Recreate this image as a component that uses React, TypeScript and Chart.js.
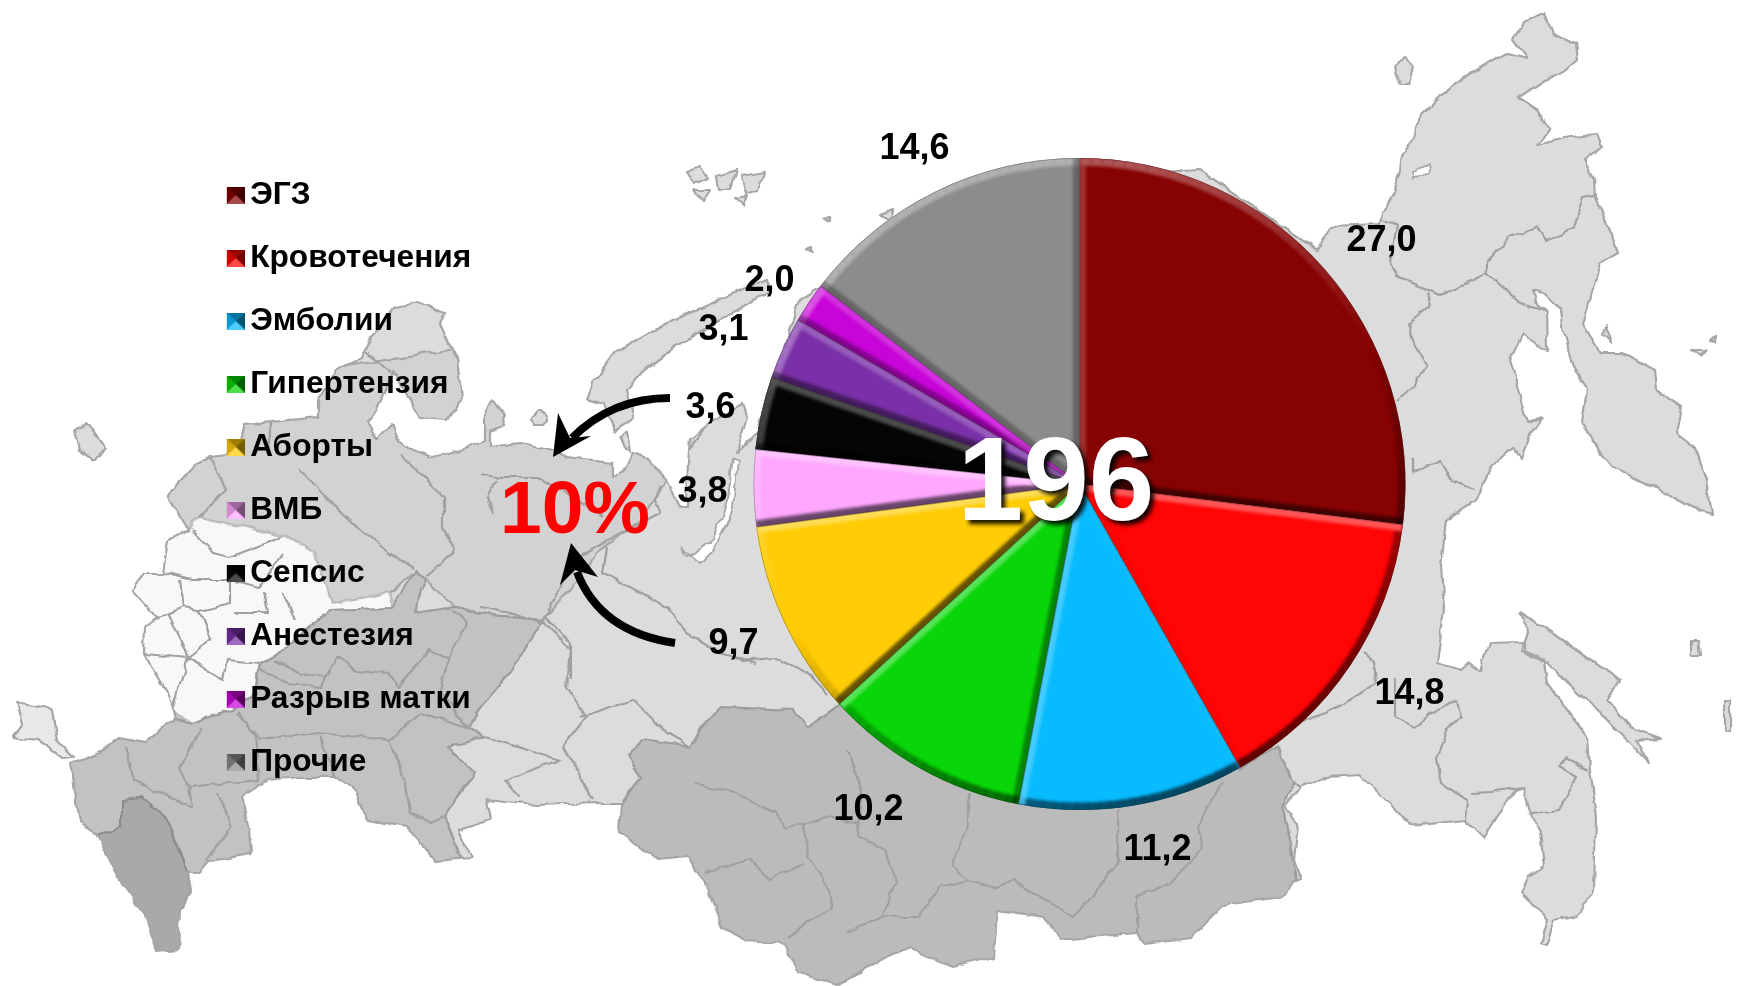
import React, { useEffect, useRef } from "react";
import { Chart, registerables } from "chart.js";

Chart.register(...registerables);

const categories = ["ЭГЗ", "Кровотечения", "Эмболии", "Гипертензия", "Аборты", "ВМБ", "Сепсис", "Анестезия", "Разрыв матки", "Прочие"];
const shares = [27.0, 14.8, 11.2, 10.2, 9.7, 3.8, 3.6, 3.1, 2.0, 14.6];
const sliceColors = ["#870303", "#FF0505", "#08BBFF", "#08D608", "#FFCC05", "#FFA6FF", "#050505", "#7A30A8", "#C805D8", "#8C8C8C"];
const valueLabels = ["27,0", "14,8", "11,2", "10,2", "9,7", "3,8", "3,6", "3,1", "2,0", "14,6"];
const centerLabel = "196";
const shareLabel = "10%";

// label offsets from pie centre, px
const labelDX = [302, 330, 78, -211, -346, -377, -369, -356, -310, -165];
const labelDY = [-243, 210, 366, 326, 160, 8, -76, -154, -203, -335];

const W = 1738, H = 986;
const CX = 1079.5, CY = 484, R = 326;
const FONT = '"Liberation Sans", Arial, sans-serif';

// decorative backdrop map, page pixels
const landMain = "168,497 180,480 194,465 210,457 238,454 245,425 318,417 318,400 337,370 363,357 370,337 397,307 417,302 445,313 440,323 457,360 462,397 447,420 420,418 407,393 392,373 377,410 368,423 377,438 392,423 397,437 413,450 433,457 460,450 485,440 485,415 493,400 505,415 503,427 490,432 490,447 520,443 553,450 567,458 613,463 613,477 627,467 633,453 647,458 667,480 680,507 687,507 688,460 690,440 720,417 743,405 747,417 737,453 757,433 800,300 1000,180 1200,170 1317,250 1330,227 1380,225 1382,213 1393,193 1400,170 1402,157 1413,137 1423,113 1443,93 1480,67 1507,53 1527,58 1513,40 1523,23 1543,13 1553,33 1575,43 1577,60 1560,75 1540,83 1518,98 1537,110 1550,130 1537,145 1570,137 1597,135 1602,147 1585,160 1595,180 1596,197 1608,227 1618,253 1600,263 1592,293 1583,325 1600,353 1623,353 1655,370 1657,390 1682,407 1677,433 1695,447 1707,480 1712,515 1700,512 1673,497 1613,467 1593,443 1582,422 1587,390 1573,363 1563,333 1560,310 1543,293 1533,290 1538,307 1547,312 1548,350 1537,347 1523,333 1510,360 1520,393 1528,422 1542,417 1528,437 1520,458 1513,447 1490,467 1476,500 1446,520 1441,567 1444,610 1437,663 1461,670 1469,663 1480,670 1489,643 1525,642 1525,650 1544,660 1547,683 1587,737 1589,770 1596,817 1594,890 1577,915 1555,920 1546,945 1540,943 1547,920 1521,893 1529,877 1544,867 1540,833 1532,817 1523,787 1514,790 1484,838 1469,823 1464,820 1420,825 1409,823 1386,800 1360,775 1326,777 1300,788 1285,807 1298,825 1294,860 1300,877 1281,897 1244,902 1221,907 1191,937 1147,943 1137,933 1089,937 1060,940 1045,917 997,910 994,957 953,967 910,948 866,967 837,985 798,973 784,943 745,940 723,927 708,887 689,857 658,860 619,832 621,803 600,803 536,805 486,800 490,820 459,830 471,857 436,860 406,827 367,820 356,790 337,777 299,777 268,780 241,797 249,830 251,853 210,860 199,873 188,873 191,893 180,910 178,950 157,952 144,913 122,883 96,833 80,823 71,763 103,750 119,738 147,743 168,723 176,717 168,693 144,653 145,627 157,617 132,590 145,573 163,573 168,540 188,530";
const islands = [
  "17,703 52,710 57,740 73,757 63,758 38,740 13,737 23,723",
  "75,430 87,422 105,448 95,460 80,450",
  "593,382 615,352 665,324 720,299 767,280 770,291 726,316 676,346 643,371 627,390 634,419 615,432 604,404 587,399",
  "530,420 540,410 548,420 543,427 533,427",
  "620,438 627,433 630,453 625,450",
  "1519,612 1553,633 1619,680 1607,700 1630,727 1660,738 1637,740 1649,763 1630,743 1600,713 1547,663 1521,650 1529,630",
  "1395,67 1403,55 1412,67 1408,85 1400,85",
  "1605,325 1612,343 1603,335",
  "1692,350 1707,350 1700,355",
  "1710,342 1717,336 1714,343",
  "687,170 700,166 708,178 694,184",
  "716,176 736,170 730,188 718,190",
  "740,176 764,172 758,190 745,194",
  "694,190 710,190 704,202",
  "735,198 746,196 742,204",
  "824,218 830,216 830,222",
  "806,248 812,246 812,252",
  "880,215 895,210 890,222",
  "1724,700 1730,700 1730,730 1724,730",
  "1692,655 1700,655 1698,640 1692,640",
];
const inlets = [
  "733,457 738,460 733,507 730,517 713,550 700,563 680,548 687,557 710,543 723,517 728,500",
  "1412,172 1430,165 1428,176 1412,178",
];
const regionNW = "100,400 800,300 667,480 640,520 600,550 560,600 543,620 490,615 455,607 425,580 415,570 390,593 333,603 314,552 287,537 199,517 188,530 100,540";
const regionCentral = "199,517 287,537 314,552 333,603 390,593 390,608 329,610 283,650 260,663 256,693 233,710 191,723 176,713 100,650 120,560 188,530";
const regionVolga = "329,610 390,608 415,570 425,580 415,613 455,607 490,615 543,620 509,673 467,727 486,737 448,747 475,773 444,817 480,900 300,900 200,960 100,960 40,800 71,763 119,738 147,743 168,723 176,717 191,723 233,710 256,693 260,663 283,650";
const regionSiberia = "641,740 691,747 700,730 721,707 793,710 808,727 839,705 1100,600 1239,768 1278,747 1293,783 1283,807 1300,900 1200,1000 800,1000 600,880 619,807 641,777 628,757";
const regionCaucasus = "122,800 142,798 165,817 180,850 188,873 191,893 180,910 200,980 130,980 110,900 80,840 122,827";
const borders = [
  "1595,195 1582,197 1573,227 1547,242 1537,227 1510,237 1487,263 1487,273 1467,283 1440,295 1423,287 1397,277 1390,260 1397,227 1380,220",
  "1487,273 1520,303 1547,312",
  "1430,293 1428,307 1408,323 1417,350 1427,367 1413,387 1397,400",
  "1413,457 1413,473 1440,460 1450,480 1473,490",
  "1279,747 1289,777 1300,788",
  "1304,722 1345,703 1377,683 1375,660 1364,653",
  "1394,677 1394,717 1416,727 1431,713 1457,700 1461,717 1448,727 1437,760 1442,783 1467,800 1465,820",
  "1472,793 1491,792 1521,787",
  "1532,813 1559,810 1577,777 1559,767 1566,757 1587,770",
  "694,783 735,793 774,813 788,827 832,817 861,823",
  "847,750 861,790 859,837 885,850 897,883 881,917 847,933",
  "803,823 808,857 830,890 832,907 788,937",
  "706,872 750,860 769,880 805,863",
  "968,793 968,823 953,867 968,880 939,887 919,917 881,917",
  "968,880 997,888 1014,880 1074,917 1118,863 1118,810",
  "1222,783 1198,827 1203,847 1171,883 1137,897 1137,933",
  "580,717 633,700 667,733 691,747",
  "740,660 774,657 808,673 827,693",
  "191,530 214,553 230,557 283,537",
  "163,573 191,580 230,580 260,587 283,553",
  "180,580 184,607 153,620",
  "184,607 199,610 230,603 230,580",
  "199,610 210,640 188,657 168,613",
  "145,653 188,657 222,680 226,660 260,663",
  "188,657 172,710",
  "233,613 268,613 264,590",
  "295,620 283,593",
  "272,660 302,673 325,677 337,657 356,670 390,673 398,687 429,650 448,660 440,690 467,727",
  "448,660 467,623 452,610",
  "260,670 287,683 321,687 325,677",
  "237,713 260,740 318,733 390,740 421,713 467,727",
  "321,736 337,780",
  "390,740 406,783 410,813 432,823 444,817",
  "203,727 180,767 188,787 260,780 256,737 237,713",
  "126,747 134,780 191,807 188,787",
  "218,793 230,827 207,860",
  "543,620 570,650 566,687 586,717 563,747 593,800",
  "486,737 517,747 559,760 505,780 520,797",
  "333,503 364,533 390,553 413,568",
  "444,497 444,527 455,550 425,577",
  "480,473 500,477 537,477 577,500 603,517",
  "660,487 653,500 660,513 607,540 573,560 550,607 543,623",
  "607,547 603,573 640,593 667,607 687,633 720,653 757,663",
  "546,617 570,643 570,680",
  "480,607 510,613 543,623",
  "497,480 487,497 493,513",
  "270,423 270,453",
  "363,350 380,363 390,373",
  "210,457 225,490 199,517",
  "300,470 333,503",
  "400,455 444,497",
];

function mix(hex: string, t: number) {
  const n = parseInt(hex.slice(1), 16);
  const f = (v: number) => Math.round(v + (255 - v) * t);
  return [f((n >> 16) & 255), f((n >> 8) & 255), f(n & 255)];
}

function makeSwatch(color: string) {
  const c = document.createElement("canvas");
  c.width = 22;
  c.height = 17;
  const g = c.getContext("2d")!;
  g.translate(4, 0);
  g.fillStyle = color;
  g.fillRect(0, 0, 18, 17);
  const tri = (pts: number[][], style: string) => {
    g.fillStyle = style;
    g.beginPath();
    pts.forEach((p, i) => (i ? g.lineTo(p[0], p[1]) : g.moveTo(p[0], p[1])));
    g.closePath();
    g.fill();
  };
  const mid = [9, 8.5];
  tri([[0, 0], [18, 0], mid], "rgba(0,0,0,0.38)");
  tri([[18, 0], [18, 17], mid], "rgba(0,0,0,0.55)");
  tri([[0, 17], [18, 17], mid], "rgba(255,255,255,0.28)");
  tri([[0, 0], [0, 17], mid], "rgba(0,0,0,0.18)");
  return c;
}

const bevelPlugin = {
  id: "bevel",
  afterDatasetsDraw(chart: any) {
    const ctx: CanvasRenderingContext2D = chart.ctx;
    const L = [-0.45, -0.89];
    chart.getDatasetMeta(0).data.forEach((arc: any, idx: number) => {
      const base = sliceColors[idx];
      const lit = mix(base, 0.32);
      const shade = (n: number[]) => {
        const d = n[0] * L[0] + n[1] * L[1];
        return d >= 0
          ? `rgba(${lit[0]},${lit[1]},${lit[2]},${Math.min(1, d * 1.25).toFixed(3)})`
          : `rgba(0,0,0,${(0.62 * -d).toFixed(3)})`;
      };
      const { x, y, startAngle: s, endAngle: e, outerRadius: r } = arc.getProps(["x", "y", "startAngle", "endAngle", "outerRadius"], true);
      ctx.save();
      ctx.beginPath();
      ctx.moveTo(x, y);
      ctx.arc(x, y, r, s, e);
      ctx.closePath();
      ctx.clip();
      ctx.filter = "blur(1.5px)";
      ctx.lineCap = "butt";
      ctx.lineWidth = 15;
      const step = Math.PI / 90;
      for (let a = s; a < e; a += step) {
        const mid = Math.min(a + step / 2, e);
        ctx.strokeStyle = shade([Math.cos(mid), Math.sin(mid)]);
        ctx.beginPath();
        ctx.arc(x, y, r, a, Math.min(a + step + 0.003, e));
        ctx.stroke();
      }
      const edges: [number, number[]][] = [
        [s, [Math.cos(s - Math.PI / 2), Math.sin(s - Math.PI / 2)]],
        [e, [Math.cos(e + Math.PI / 2), Math.sin(e + Math.PI / 2)]],
      ];
      edges.forEach(([a, n]) => {
        ctx.strokeStyle = shade(n);
        ctx.lineWidth = 13;
        ctx.beginPath();
        ctx.moveTo(x, y);
        ctx.lineTo(x + Math.cos(a) * r, y + Math.sin(a) * r);
        ctx.stroke();
      });
      ctx.filter = "none";
      ctx.lineWidth = 1.5;
      ctx.strokeStyle = "rgba(40,40,40,0.35)";
      ctx.beginPath();
      ctx.moveTo(x, y);
      ctx.arc(x, y, r, s, e);
      ctx.closePath();
      ctx.stroke();
      ctx.restore();
    });
  },
};

const annotationPlugin = {
  id: "annotations",
  afterDraw(chart: any) {
    const ctx: CanvasRenderingContext2D = chart.ctx;
    const arc = chart.getDatasetMeta(0).data[0];
    const cx = arc.x, cy = arc.y;
    ctx.save();
    ctx.textAlign = "center";
    ctx.textBaseline = "middle";
    ctx.fillStyle = "#000";
    ctx.font = `bold 36px ${FONT}`;
    valueLabels.forEach((t, i) => ctx.fillText(t, cx + labelDX[i], cy + labelDY[i]));

    ctx.strokeStyle = "#000";
    ctx.fillStyle = "#000";
    ctx.lineWidth = 8;
    ctx.beginPath();
    ctx.moveTo(670, 398);
    ctx.quadraticCurveTo(612, 398, 572, 438);
    ctx.stroke();
    ctx.beginPath();
    ctx.moveTo(553, 457);
    ctx.lineTo(558, 413);
    ctx.lineTo(570, 438);
    ctx.lineTo(591, 436);
    ctx.closePath();
    ctx.fill();
    ctx.beginPath();
    ctx.moveTo(675, 643);
    ctx.quadraticCurveTo(600, 632, 577, 572);
    ctx.stroke();
    ctx.beginPath();
    ctx.moveTo(571, 543);
    ctx.lineTo(598, 577);
    ctx.lineTo(575, 570);
    ctx.lineTo(560, 585);
    ctx.closePath();
    ctx.fill();

    ctx.fillStyle = "#FF0000";
    ctx.font = `bold 75px ${FONT}`;
    ctx.fillText(shareLabel, 575, 512);

    ctx.font = `bold 118px ${FONT}`;
    ctx.shadowColor = "rgba(0,0,0,0.9)";
    ctx.shadowBlur = 4;
    ctx.shadowOffsetX = 4;
    ctx.shadowOffsetY = 4;
    ctx.fillStyle = "#FFFFFF";
    ctx.fillText(centerLabel, 1056, 487);
    ctx.restore();
  },
};

const legendPlacement = {
  id: "legendPlacement",
  afterLayout(chart: any) {
    const lg = chart.legend;
    const w = lg.width, h = lg.height;
    lg.left = 202;
    lg.right = 202 + w;
    lg.top = 147.9;
    lg.bottom = 147.9 + h;
  },
};

export default function App() {
  const ref = useRef<HTMLCanvasElement>(null);
  useEffect(() => {
    document.body.style.margin = "0";
    document.body.style.overflow = "hidden";
    const swatches = sliceColors.map(makeSwatch);
    const chart = new Chart(ref.current!, {
      type: "pie",
      data: {
        labels: categories,
        datasets: [{ data: shares, backgroundColor: sliceColors, borderWidth: 0, radius: R } as any],
      },
      options: {
        responsive: false,
        animation: false,
        layout: { padding: { left: 2 * CX - W, bottom: H - 2 * CY } },
        plugins: {
          tooltip: { enabled: false },
          legend: {
            position: "chartArea" as any,
            align: "start",
            labels: {
              usePointStyle: true,
              pointStyleWidth: 1,
              boxHeight: 17,
              padding: 31.3,
              color: "#000",
              font: { family: FONT, size: 31.7, weight: "bold" },
              generateLabels(c: any) {
                const items = (Chart as any).overrides.pie.plugins.legend.labels.generateLabels(c);
                items.forEach((it: any, i: number) => {
                  it.pointStyle = swatches[i];
                  it.lineWidth = 0;
                });
                return items;
              },
            },
          },
        },
      },
      plugins: [legendPlacement, bevelPlugin, annotationPlugin],
    } as any);
    return () => chart.destroy();
  }, []);

  const stroke = { stroke: "#a6a6a6", strokeWidth: 2.2, strokeLinejoin: "round" as const };
  return (
    <div style={{ position: "absolute", left: 0, top: 0, width: W, height: H, background: "#fff", overflow: "hidden" }}>
      <svg viewBox={`0 0 ${W} ${H}`} width={W} height={H} style={{ position: "absolute", left: 0, top: 0 }}>
        <defs>
          <clipPath id="land"><polygon points={landMain} /></clipPath>
          <filter id="rough" x="-2%" y="-2%" width="104%" height="104%">
            <feTurbulence type="fractalNoise" baseFrequency="0.06" numOctaves={2} seed={3} result="n" />
            <feDisplacementMap in="SourceGraphic" in2="n" scale={7} xChannelSelector="R" yChannelSelector="G" />
            <feGaussianBlur stdDeviation={0.6} />
          </filter>
        </defs>
        <g filter="url(#rough)">
          <polygon points={landMain} fill="#dcdcdc" />
          {islands.map((p, i) => <polygon key={i} points={p} fill={i === 0 ? "#e8e8e8" : "#dcdcdc"} {...stroke} />)}
          <g clipPath="url(#land)">
            <polygon points={regionNW} fill="#d2d2d2" {...stroke} />
            <polygon points={regionCentral} fill="#f8f8f8" {...stroke} stroke="#bdbdbd" />
            <polygon points={regionVolga} fill="#c2c2c2" {...stroke} stroke="#9c9c9c" />
            <polygon points={regionSiberia} fill="#bbbbbb" {...stroke} stroke="#9c9c9c" />
            <polygon points={regionCaucasus} fill="#a9a9a9" stroke="#8c8c8c" strokeWidth={2.2} />
            {borders.map((p, i) => <polyline key={i} points={p} fill="none" {...stroke} stroke="#a0a0a0" />)}
          </g>
          <polygon points={landMain} fill="none" {...stroke} />
          {inlets.map((p, i) => <polygon key={i} points={p} fill="#fff" stroke="#a6a6a6" strokeWidth={1.8} />)}
        </g>
      </svg>
      <canvas ref={ref} width={W} height={H} style={{ position: "absolute", left: 0, top: 0 }} />
    </div>
  );
}
